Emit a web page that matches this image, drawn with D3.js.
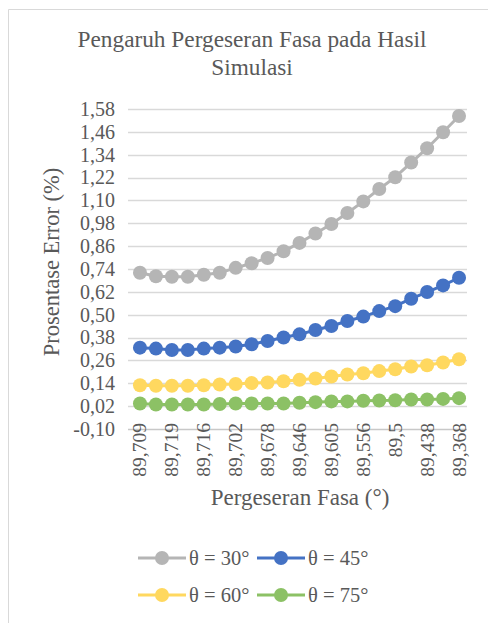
<!DOCTYPE html>
<html>
<head>
<meta charset="utf-8">
<script src="https://cdn.jsdelivr.net/npm/d3@7"></script>
<style>
  html, body { margin: 0; padding: 0; background: #fff; }
  svg, svg text { font-family: "Times New Roman", Tinos, "Liberation Serif", "DejaVu Serif", serif !important; fill: #595959; }
</style>
</head>
<body>
<svg id="chart" width="488" height="623"></svg>
<script>
// Phase shift categories (degrees) — every point on the x axis
const categories = [
  "89,709", "89,715", "89,719", "89,718", "89,716", "89,71", "89,702", "89,691",
  "89,678", "89,663", "89,646", "89,626", "89,605", "89,582", "89,556", "89,529",
  "89,5", "89,47", "89,438", "89,404", "89,368"
];
// Labels shown on the category axis (every second category)
const tickLabels = ["89,709", "89,719", "89,716", "89,702", "89,678", "89,646", "89,605", "89,556", "89,5", "89,438", "89,368"];

// Error percentage per incidence angle
const theta30 = [0.720, 0.702, 0.699, 0.699, 0.710, 0.720, 0.746, 0.770, 0.798, 0.833, 0.877,
                 0.926, 0.976, 1.034, 1.095, 1.160, 1.222, 1.299, 1.374, 1.458, 1.543];
const theta45 = [0.327, 0.322, 0.315, 0.315, 0.322, 0.327, 0.333, 0.345, 0.362, 0.380, 0.397,
                 0.420, 0.441, 0.467, 0.490, 0.519, 0.545, 0.584, 0.619, 0.654, 0.694];
const theta60 = [0.130, 0.127, 0.127, 0.127, 0.130, 0.134, 0.136, 0.141, 0.144, 0.151, 0.158,
                 0.165, 0.176, 0.186, 0.193, 0.204, 0.214, 0.228, 0.235, 0.249, 0.266];
const theta75 = [0.034, 0.029, 0.029, 0.029, 0.029, 0.031, 0.034, 0.034, 0.034, 0.034, 0.038,
                 0.041, 0.045, 0.045, 0.048, 0.050, 0.051, 0.055, 0.055, 0.058, 0.062];

const seriesNames = ["θ = 30°", "θ = 45°", "θ = 60°", "θ = 75°"];
const seriesColors = ["#B5B5B5", "#4472C4", "#FFD85F", "#8CC165"];
const yTicks = [-0.10, 0.02, 0.14, 0.26, 0.38, 0.50, 0.62, 0.74, 0.86, 0.98, 1.10, 1.22, 1.34, 1.46, 1.58];

const series = [theta30, theta45, theta60, theta75].map((values, i) => ({
  name: seriesNames[i], color: seriesColors[i], values
}));

const FONT = '"Times New Roman", Tinos, "Liberation Serif", "DejaVu Serif", serif';
const svg = d3.select("#chart").attr("font-family", FONT);

// Chart area border (top and left edges visible)
svg.append("path")
  .attr("d", "M8.5,623 V9.5 H488")
  .attr("fill", "none").attr("stroke", "#D9D9D9").attr("stroke-width", 1);

const plot = { left: 132, right: 467, top: 109, bottom: 429 };

const x = d3.scalePoint().domain(categories).range([plot.left, plot.right]).padding(0.5);
const y = d3.scaleLinear().domain([-0.10, 1.58]).range([plot.bottom, plot.top]);

const fmt = v => v.toFixed(2).replace(".", ",");

// Horizontal gridlines
svg.append("g").selectAll("line").data(yTicks.slice(1)).join("line")
  .attr("x1", plot.left - 4).attr("x2", plot.right)
  .attr("y1", d => Math.round(y(d)) + 0.5).attr("y2", d => Math.round(y(d)) + 0.5)
  .attr("stroke", "#D9D9D9").attr("stroke-width", 1.3);

// Y axis labels
const yAxis = d3.axisLeft(y).tickValues(yTicks).tickFormat(fmt).tickSize(0).tickPadding(0);
const yg = svg.append("g").attr("transform", `translate(${plot.left - 17},0)`).call(yAxis)
  .attr("font-family", FONT).attr("font-size", 20);
yg.select(".domain").remove();
yg.selectAll("text").attr("fill", "#595959");

// X axis line
svg.append("line")
  .attr("x1", plot.left - 4).attr("x2", plot.right)
  .attr("y1", y(-0.10) + 0.5).attr("y2", y(-0.10) + 0.5)
  .attr("stroke", "#C8C8C8").attr("stroke-width", 1.3);

// X axis labels (rotated)
svg.append("g").selectAll("text").data(tickLabels).join("text")
  .attr("transform", d => `translate(${x(d) + 6.5},${plot.bottom - 6}) rotate(-90)`)
  .attr("text-anchor", "end")
  .attr("font-size", 19.5)
  .text(d => d);

// Series lines and markers
const line = d3.line().x((d, i) => x(categories[i])).y(d => y(d));
const sg = svg.append("g").selectAll("g").data(series).join("g");
sg.append("path")
  .attr("d", d => line(d.values))
  .attr("fill", "none").attr("stroke", d => d.color).attr("stroke-width", 3);
sg.each(function (s) {
  d3.select(this).selectAll("circle").data(s.values).join("circle")
    .attr("cx", (d, i) => x(categories[i])).attr("cy", d => y(d))
    .attr("r", 7).attr("fill", s.color);
});

// Titles
const title = svg.append("text").attr("text-anchor", "middle").attr("font-size", 23.3);
title.append("tspan").attr("x", 252).attr("y", 47).text("Pengaruh Pergeseran Fasa pada Hasil");
title.append("tspan").attr("x", 252).attr("y", 75).text("Simulasi");

svg.append("text")
  .attr("transform", `translate(59,262) rotate(-90)`)
  .attr("text-anchor", "middle").attr("font-size", 22.5)
  .text("Prosentase Error (%)");

svg.append("text")
  .attr("x", 300).attr("y", 505)
  .attr("text-anchor", "middle").attr("font-size", 23)
  .text("Pergeseran Fasa (°)");

// Legend
const legendPos = [[138, 558], [257, 558], [138, 595], [257, 595]];
const lg = svg.append("g").selectAll("g").data(series).join("g")
  .attr("transform", (d, i) => `translate(${legendPos[i][0]},${legendPos[i][1]})`);
lg.append("line").attr("x1", 0).attr("x2", 48).attr("y1", 0).attr("y2", 0)
  .attr("stroke", d => d.color).attr("stroke-width", 3);
lg.append("circle").attr("cx", 24).attr("cy", 0).attr("r", 7).attr("fill", d => d.color);
lg.append("text").attr("x", 51).attr("y", 7).attr("font-size", 20.5).text(d => d.name);
</script>
</body>
</html>
